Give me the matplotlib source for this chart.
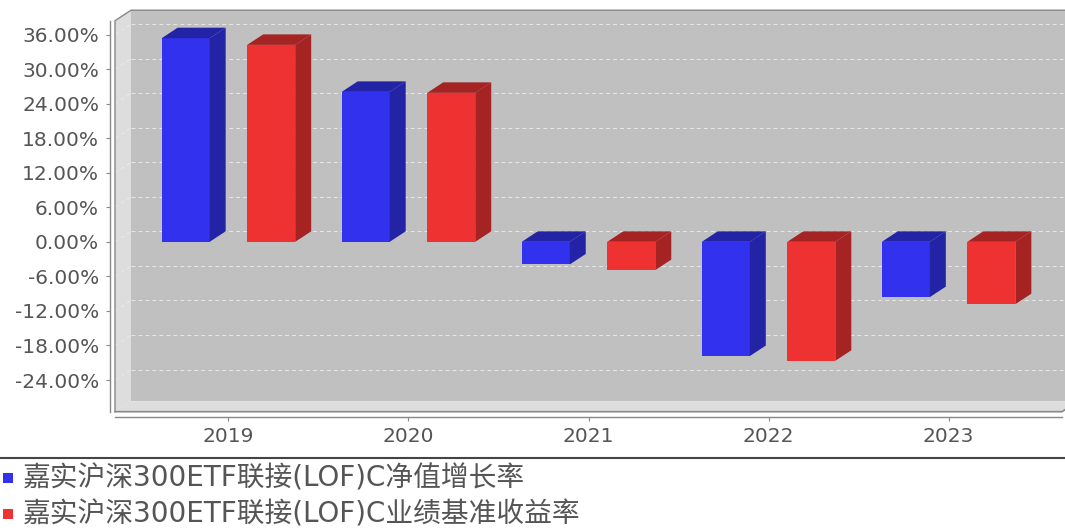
import matplotlib.pyplot as plt
import numpy as np
from matplotlib.patches import Polygon, Rectangle
from matplotlib.lines import Line2D

years = ['2019', '2020', '2021', '2022', '2023']
nav_growth = [35.36, 26.04, -3.93, -19.84, -9.60]     # 净值增长率 (%)
bench_return = [34.20, 25.87, -4.91, -20.66, -10.83]  # 业绩基准收益率 (%)
series_names = ['嘉实沪深300ETF联接(LOF)C净值增长率',
                '嘉实沪深300ETF联接(LOF)C业绩基准收益率']
yticks = np.arange(-24, 37, 6)

face_colors = ['#3232EE', '#EE3232']
side_colors = ['#2323A6', '#A62323']
wall_col = '#C0C0C0'
side_wall_col = '#DDDDDD'
line_col = '#888888'
text_col = '#555555'

W, H = 1065, 530
fig = plt.figure(figsize=(W / 100, H / 100), dpi=100)

# front plane of the 3d box (pixels)
left, right, top, bottom = 115, 1062, 20.7, 411.7
ax = fig.add_axes([left / W, 1 - bottom / H, (right - left) / W, (bottom - top) / H])
xmin, xmax = -0.63, len(years) - 1 + 0.63
ymin, ymax = -29.5, 38.4
ax.set_xlim(xmin, xmax)
ax.set_ylim(ymin, ymax)
ax.patch.set_visible(False)

# depth of the 3d effect: 16px right, 10.5px up -> data units
ox = 16 * (xmax - xmin) / (right - left)
oy = 10.5 * (ymax - ymin) / (bottom - top)

# back wall, left wall, floor
ax.add_patch(Rectangle((xmin + ox, ymin + oy), xmax - xmin, ymax - ymin,
                       facecolor=wall_col, edgecolor='none', zorder=0, clip_on=False))
ax.add_patch(Polygon([(xmin, ymax), (xmin + ox, ymax + oy), (xmin + ox, ymin + oy), (xmin, ymin)],
                     facecolor=side_wall_col, edgecolor='none', zorder=1, clip_on=False))
ax.add_patch(Polygon([(xmin, ymin), (xmin + ox, ymin + oy), (xmax + ox, ymin + oy), (xmax, ymin)],
                     facecolor=side_wall_col, edgecolor='none', zorder=1, clip_on=False))

# gridlines on the back wall (and faint ones on the left wall)
for t in yticks:
    ax.plot([xmin + ox, xmax + ox], [t + oy, t + oy], color='#E6E6E6', lw=0.75,
            ls=(0, (3.8, 2.9)), zorder=1.5, clip_on=False)
    ax.plot([xmin, xmin + ox], [t, t + oy], color='white', lw=0.75, alpha=0.35,
            ls=(0, (3.8, 2.9)), zorder=1.5, clip_on=False)

# outline of the box
ax.plot([xmin, xmin, xmin + ox, xmax + ox], [ymin, ymax, ymax + oy, ymax + oy],
        color=line_col, lw=1, zorder=2, clip_on=False)
ax.plot([xmin, xmax, xmax + ox], [ymin, ymin, ymin + oy],
        color=line_col, lw=1.2, zorder=2, clip_on=False)

# 3d bars
x = np.arange(len(years))
bw = 0.2667
shift = 0.2375
for i, vals in enumerate([nav_growth, bench_return]):
    pos = x + (i * 2 - 1) * shift
    ax.bar(pos, vals, width=bw, color=face_colors[i], edgecolor='none', zorder=3, clip_on=False)
    for p, v in zip(pos, vals):
        x0, x1 = p - bw / 2, p + bw / 2
        yt, yb = max(v, 0), min(v, 0)
        ax.add_patch(Polygon([(x0, yt), (x0 + ox, yt + oy), (x1 + ox, yt + oy), (x1, yt)],
                             facecolor=side_colors[i], edgecolor='none', zorder=3, clip_on=False))
        ax.add_patch(Polygon([(x1, yb), (x1, yt), (x1 + ox, yt + oy), (x1 + ox, yb + oy)],
                             facecolor=side_colors[i], edgecolor='none', zorder=3, clip_on=False))

# axes
for s in ['top', 'right']:
    ax.spines[s].set_visible(False)
for s in ['left', 'bottom']:
    ax.spines[s].set_position(('outward', 3.6))
    ax.spines[s].set_color(line_col)
    ax.spines[s].set_linewidth(1)
ax.set_xticks(x)
ax.set_xticklabels(years)
ax.set_yticks(yticks)
ax.set_yticklabels(['%.2f%%' % t for t in yticks])
ax.tick_params(axis='y', length=2.9, width=0.8, color=line_col, labelcolor=text_col,
               labelsize=14.5, pad=5)
ax.tick_params(axis='x', length=2.9, width=0.8, color=line_col, labelcolor=text_col,
               labelsize=14.5, pad=4.5)

# legend (second row kept just inside the bottom edge)
fig.add_artist(Line2D([0, 1], [1 - 457.7 / H] * 2, transform=fig.transFigure,
                      color='#444444', lw=1.5))
row_y = [478, 514]
for i, name in enumerate(series_names):
    fig.add_artist(Rectangle((3.3 / W, 1 - (row_y[i] + 4.7) / H), 9.4 / W, 9.4 / H,
                             transform=fig.transFigure, facecolor=face_colors[i], edgecolor='none'))
    fig.text(22.7 / W, 1 - (row_y[i] + 1) / H, name, fontsize=20, color=text_col, va='center',
             family=['DejaVu Sans', 'Noto Sans CJK SC'])

fig.savefig('out.png', dpi=100, facecolor='white')
